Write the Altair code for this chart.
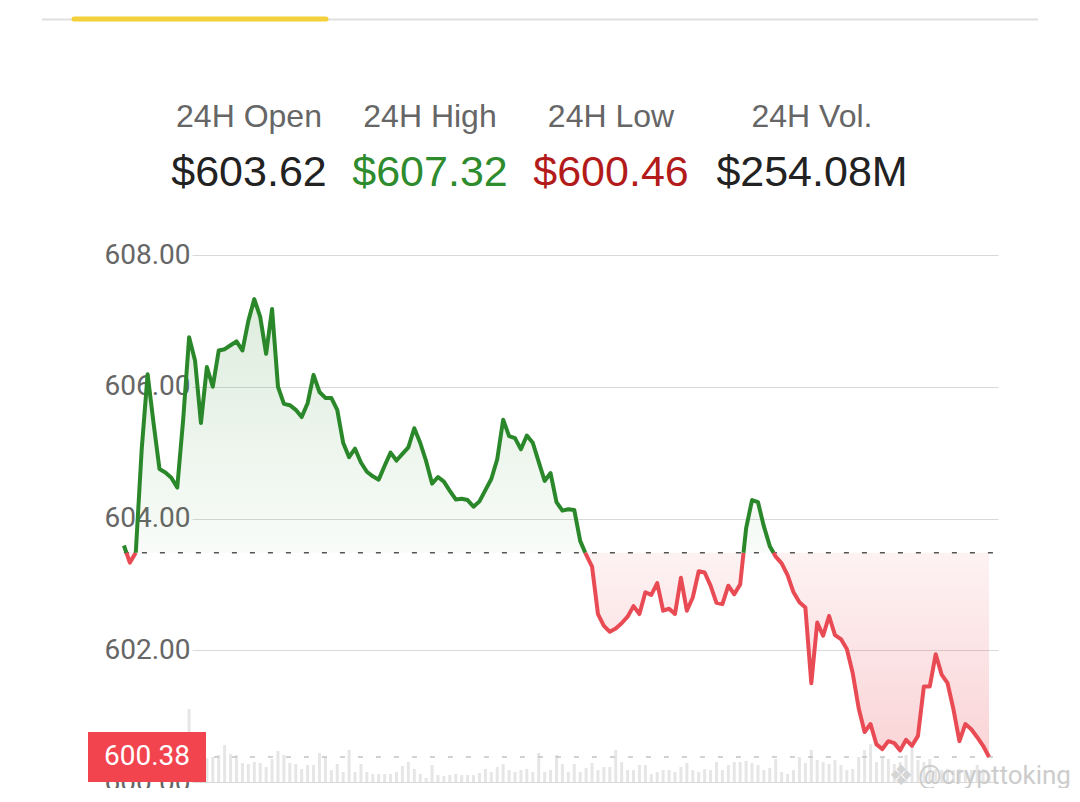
import altair as alt
import pandas as pd

# ---------------- data ----------------
BASE = 603.48          # reference (dashed) price line
LAST = 600.38          # last traded price

PRICES = [
    603.59, 603.33, 603.48, 605.05, 606.19, 605.45, 604.75, 604.70, 604.62, 604.47,
    605.50, 606.75, 606.40, 605.45, 606.30, 606.00, 606.55, 606.57, 606.63, 606.69,
    606.55, 607.00, 607.33, 607.06, 606.50, 607.18, 606.00, 605.74, 605.72, 605.65,
    605.54, 605.75, 606.18, 605.92, 605.83, 605.83, 605.65, 605.15, 604.93, 605.06,
    604.85, 604.71, 604.64, 604.59, 604.80, 605.00, 604.88, 604.98, 605.08, 605.37,
    605.15, 604.87, 604.53, 604.63, 604.56, 604.42, 604.29, 604.30, 604.28, 604.18,
    604.26, 604.43, 604.60, 604.90, 605.50, 605.25, 605.22, 605.05, 605.26, 605.15,
    604.86, 604.57, 604.69, 604.25, 604.12, 604.14, 604.13, 603.66, 603.45, 603.27,
    602.55, 602.37, 602.28, 602.33, 602.41, 602.51, 602.67, 602.55, 602.88, 602.84,
    603.02, 602.60, 602.63, 602.55, 603.10, 602.60, 602.80, 603.20, 603.18, 602.98,
    602.72, 602.70, 602.98, 602.85, 603.00, 603.85, 604.28, 604.25, 603.88, 603.58,
    603.42, 603.32, 603.14, 602.88, 602.73, 602.65, 601.50, 602.42, 602.22, 602.52,
    602.23, 602.17, 602.02, 601.65, 601.12, 600.76, 600.88, 600.57, 600.50, 600.62,
    600.59, 600.48, 600.64, 600.55, 600.70, 601.45, 601.45, 601.94, 601.63, 601.50,
    601.10, 600.62, 600.88, 600.80, 600.68, 600.55, 600.38,
]

VOLUMES = [
    18, 22, 20, 25, 30, 24, 20, 26, 22, 28, 30, 73, 26, 22, 24,
    25, 27, 37, 28, 27, 19, 18, 20, 19, 15,
    23, 31, 27, 19, 18, 13, 17, 17, 29, 25,
    12, 18, 10, 32, 10, 18, 10, 8, 8, 8,
    8, 10, 16, 20, 13, 8, 4, 17, 7, 6,
    7, 8, 7, 7, 7, 9, 13, 10, 15, 18,
    12, 10, 12, 13, 10, 29, 10, 12, 27, 18,
    10, 18, 10, 14, 19, 12, 15,
    15, 32, 20, 12, 12, 17, 17,
    8, 10, 12, 12, 10, 15, 19, 12, 10, 13,
    12, 20, 12, 17, 20, 20, 21, 19, 17, 12,
    14, 23, 10, 8, 12, 25, 19, 32, 22,
    20, 18, 22, 17, 12, 13, 25, 32, 38, 20,
    25, 23, 18, 20, 27, 35, 22, 20, 23, 13,
    12, 13, 12, 13, 10, 12, 17, 13, 8,
]

HEADER_LABELS = ["24H Open", "24H High", "24H Low", "24H Vol."]
HEADER_VALUES = ["$603.62", "$607.32", "$600.46", "$254.08M"]
Y_TICKS = [600, 602, 604, 606, 608]

# ---------------- styles / layout ----------------
GREEN = "#2a882a"
RED = "#e94b55"
FONT = "Roboto"
HFONT = "Liberation Sans"
HEADER_COLORS = ["#222222", "#2e8b2e", "#b31b1b", "#222222"]
HEADER_X = [57, 238, 419, 620]

n = len(PRICES)
ts = list(range(n))

# split the line where it crosses the reference price
rows, area = [], []
seg = 0
side = PRICES[0] >= BASE
rows.append((ts[0], PRICES[0], seg, side))
area.append((ts[0], PRICES[0]))
for i in range(1, n):
    v0, v1 = PRICES[i - 1], PRICES[i]
    s1 = v1 >= BASE
    if s1 != side:
        f = (BASE - v0) / (v1 - v0)
        tc = ts[i - 1] + f * (ts[i] - ts[i - 1])
        rows.append((tc, BASE, seg, side))
        area.append((tc, BASE))
        seg += 1
        side = s1
        rows.append((tc, BASE, seg, side))
    rows.append((ts[i], v1, seg, side))
    area.append((ts[i], v1))

line_df = pd.DataFrame(rows, columns=["t", "price", "seg", "side"])
line_df["side"] = line_df["side"].map({True: "up", False: "down"})
area_df = pd.DataFrame(area, columns=["t", "price"])
area_df["up"] = area_df["price"].clip(lower=BASE)
area_df["dn"] = area_df["price"].clip(upper=BASE)

vol_df = pd.DataFrame({"t": ts, "vol": VOLUMES})

X_MIN = 74 / 6
X_MAX = X_MIN + 806 / 6
xscale = alt.Scale(domain=[X_MIN, X_MAX], nice=False, zero=False)
yscale = alt.Scale(domain=[600, 608], nice=False, zero=False)
X = alt.X("t:Q", scale=xscale, axis=None)

def Y(field):
    return alt.Y(field, scale=yscale, title=None)

vol_chart = alt.Chart(vol_df).mark_bar(width=3, color="#e6e6e6").encode(
    x=X,
    y=alt.Y("vol:Q", scale=alt.Scale(domain=[0, 527]), axis=None),
)

area_g = alt.Chart(area_df).mark_area(
    color=alt.Gradient(
        gradient="linear",
        stops=[alt.GradientStop(color="rgba(46,139,46,0.16)", offset=0),
               alt.GradientStop(color="rgba(46,139,46,0.03)", offset=1)],
        x1=1, x2=1, y1=0, y2=1),
).encode(
    x=X,
    y=alt.Y("up:Q", scale=yscale, title=None,
            axis=alt.Axis(orient="left", values=Y_TICKS, format=".2f",
                          labelFont=FONT, labelFontSize=28, labelColor="#666666",
                          labelPadding=2, ticks=False, domain=False,
                          grid=True, gridColor="#d9d9d9", gridWidth=1)),
    y2=alt.datum(BASE),
)

area_r = alt.Chart(area_df).mark_area(
    color=alt.Gradient(
        gradient="linear",
        stops=[alt.GradientStop(color="rgba(233,75,85,0.07)", offset=0),
               alt.GradientStop(color="rgba(233,75,85,0.24)", offset=1)],
        x1=1, x2=1, y1=0, y2=1),
).encode(x=X, y=Y("dn:Q"), y2=alt.datum(BASE))

ref_df = pd.DataFrame({"t0": [0.0], "t1": [X_MAX], "b": [BASE], "p": [LAST]})

base_rule = alt.Chart(ref_df).mark_rule(
    color="#555555", strokeWidth=1.5, strokeDash=[5, 13]
).encode(x=alt.X("t0:Q", scale=xscale, axis=None), x2="t1:Q", y=Y("b:Q"))

last_rule = alt.Chart(ref_df).mark_rule(
    color="#c4c4c4", strokeWidth=1.5, strokeDash=[5, 13]
).encode(x=alt.X("t0:Q", scale=xscale, axis=None), x2="t1:Q", y=Y("p:Q"))

lines = alt.Chart(line_df).mark_line(strokeWidth=4, strokeJoin="round").encode(
    x=X,
    y=Y("price:Q"),
    detail="seg:N",
    color=alt.Color("side:N", scale=alt.Scale(domain=["up", "down"], range=[GREEN, RED]),
                    legend=None),
)

BOX_PATH = "M-1,-0.4237L1,-0.4237L1,0.4237L-1,0.4237Z"
box = alt.Chart(ref_df).mark_point(
    shape=BOX_PATH, size=118 * 118, filled=True, color="#f2444f", opacity=1, strokeWidth=0
).encode(x=alt.value(-45), y=Y("p:Q"))

box_text = alt.Chart(ref_df).mark_text(
    color="white", font=FONT, fontSize=28, align="center", baseline="middle"
).encode(x=alt.value(-45), y=Y("p:Q"), text=alt.Text("p:Q", format=".2f"))

price_layer = alt.layer(area_g, area_r, last_rule, base_rule, lines, box, box_text)
main = alt.layer(vol_chart, price_layer).resolve_scale(y="independent")

one = pd.DataFrame({"k": [0]})
decor = []
decor.append(alt.Chart(one).mark_rule(color="#e0e0e0", strokeWidth=2).encode(
    x=alt.value(-150), x2=alt.value(846), y=alt.value(-235.5)))
decor.append(alt.Chart(one).mark_rule(color="#f4d03a", strokeWidth=5, strokeCap="round").encode(
    x=alt.value(-118), x2=alt.value(134), y=alt.value(-236)))

for i, (lab, val) in enumerate(zip(HEADER_LABELS, HEADER_VALUES)):
    df = pd.DataFrame({"lab": [lab], "val": [val]})
    decor.append(alt.Chart(df).mark_text(
        font=HFONT, fontSize=32, color="#666666", align="center", baseline="middle"
    ).encode(x=alt.value(HEADER_X[i]), y=alt.value(-138), text="lab:N"))
    decor.append(alt.Chart(df).mark_text(
        font=HFONT, fontSize=43, color=HEADER_COLORS[i], align="center", baseline="middle"
    ).encode(x=alt.value(HEADER_X[i]), y=alt.value(-82), text="val:N"))

wm = pd.DataFrame({"icon": ["\u2756"], "txt": ["@crypttoking"]})
decor.append(alt.Chart(wm).mark_text(
    font="DejaVu Sans", fontSize=28, color="#d4d4d4", align="center", baseline="middle"
).encode(x=alt.value(709), y=alt.value(522), text="icon:N"))
decor.append(alt.Chart(wm).mark_text(
    font=FONT, fontSize=26, color="#cccccc", align="left", baseline="middle"
).encode(x=alt.value(726), y=alt.value(521), text="txt:N"))

chart = alt.layer(main, *decor).properties(
    width=806,
    height=527,
    autosize=alt.AutoSizeParams(type="none"),
    padding={"left": 184, "top": 247, "right": 72, "bottom": 6},
).configure_view(strokeWidth=0)

chart.save("out.html", embed_options={"renderer": "svg", "actions": False})
